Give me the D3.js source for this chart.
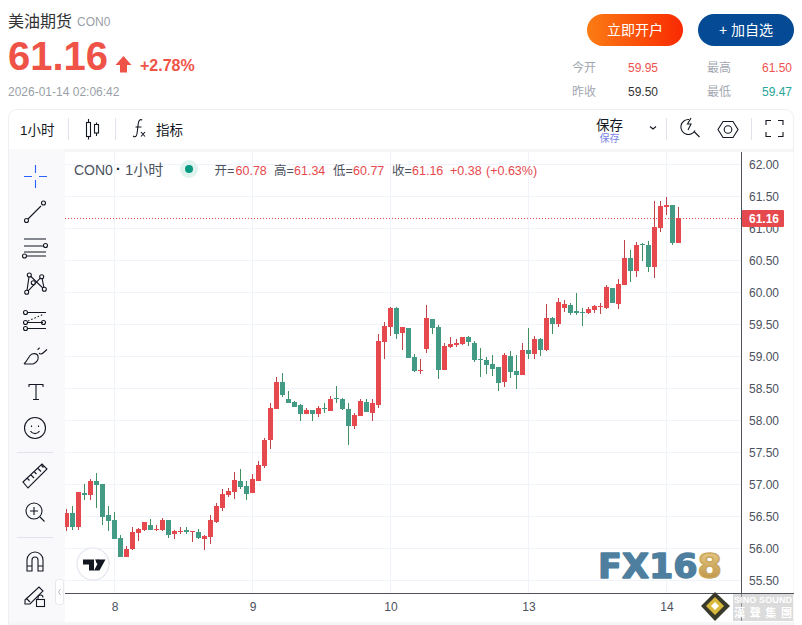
<!DOCTYPE html>
<html>
<head>
<meta charset="utf-8">
<title>美油期货</title>
<script src="https://cdn.jsdelivr.net/npm/d3@7"></script>
<style>
    html, body { margin: 0; padding: 0; background: #fff; }
    svg { display: block; font-family: "Liberation Sans", "Noto Sans CJK SC", sans-serif; }
    .icon { fill: none; stroke: #131722; stroke-width: 1.1; }
    .axis text { font-size: 12px; fill: #4c525e; font-family: "Liberation Sans", "Noto Sans CJK SC", sans-serif; }
</style>
</head>
<body>
<svg id="chart" width="802" height="625"></svg>
<script>
// Candles, one per hour, oldest first
const opens = [56.33,56.55,56.33,56.86,56.83,57.05,57.01,56.52,56.44,56.16,55.86,55.99,56.24,56.29,56.36,56.29,56.29,56.44,56.22,56.26,56.29,56.26,56.26,56.15,56.18,56.41,56.63,56.83,56.88,57.05,56.97,56.86,57.05,57.29,57.69,58.18,58.60,58.33,58.29,58.24,58.10,58.16,58.10,58.19,58.15,58.35,58.33,58.18,57.91,58.07,58.29,58.11,58.25,59.22,59.46,59.76,59.36,59.44,58.99,58.77,59.11,59.58,59.46,58.79,59.15,59.18,59.19,59.30,59.21,58.96,58.94,58.88,58.83,58.60,59.01,58.77,58.71,59.10,59.04,59.27,59.10,59.60,59.51,59.76,59.80,59.71,59.69,59.68,59.72,59.77,59.76,60.07,59.82,60.11,60.54,60.33,60.76,60.74,60.40,61.01,61.33,61.37,60.78];
const highs = [56.61,56.66,56.88,57.01,57.08,57.18,57.01,56.66,56.57,56.21,56.04,56.33,56.32,56.41,56.46,56.36,56.47,56.44,56.29,56.33,56.33,56.27,56.30,56.21,56.52,56.71,56.93,56.94,57.19,57.24,57.05,57.16,57.36,57.72,58.27,58.68,58.74,58.46,58.30,58.26,58.19,58.16,58.22,58.27,58.38,58.54,58.35,58.27,58.11,58.33,58.33,58.33,59.35,59.54,59.77,59.77,59.46,59.44,59.04,58.96,59.80,59.58,59.49,59.21,59.30,59.27,59.30,59.32,59.24,59.13,58.99,59.02,58.83,59.05,59.08,59.02,59.21,59.44,59.32,59.29,59.82,59.61,59.91,59.88,59.83,59.99,59.76,59.77,59.80,59.83,60.11,60.07,60.21,60.82,60.66,60.79,60.77,60.80,61.43,61.43,61.50,61.37,61.34];
const lows = [56.27,56.29,56.29,56.76,56.76,56.63,56.36,56.27,56.15,55.86,55.86,55.97,56.11,56.27,56.29,56.27,56.27,56.16,56.15,56.22,56.22,56.10,56.15,55.97,56.07,56.40,56.58,56.80,56.77,56.93,56.76,56.86,57.05,57.26,57.55,58.18,58.36,58.27,58.21,57.99,58.10,58.00,58.05,58.11,58.15,58.27,58.16,57.61,57.86,58.07,58.13,58.00,58.19,58.96,59.32,59.27,59.10,58.97,58.76,58.72,59.05,59.35,58.65,58.79,59.13,59.15,59.18,59.16,58.91,58.68,58.72,58.69,58.46,58.52,58.66,58.49,58.71,58.96,58.96,59.01,59.08,59.35,59.46,59.69,59.65,59.65,59.47,59.66,59.68,59.66,59.74,59.83,59.74,60.11,60.16,60.24,60.49,60.32,60.22,60.94,61.21,60.74,60.77];
const closes = [56.55,56.33,56.88,56.83,57.05,56.99,56.49,56.43,56.15,55.86,55.99,56.26,56.30,56.41,56.29,56.30,56.44,56.21,56.27,56.27,56.26,56.27,56.16,56.19,56.44,56.66,56.85,56.90,57.07,56.96,56.85,57.08,57.30,57.69,58.19,58.60,58.40,58.27,58.21,58.10,58.16,58.10,58.19,58.18,58.33,58.33,58.18,57.91,58.08,58.30,58.13,58.27,59.24,59.47,59.76,59.35,59.46,58.97,58.77,58.79,59.60,59.44,58.79,59.16,59.19,59.21,59.30,59.22,58.94,58.94,58.86,58.80,58.58,59.02,58.76,58.71,59.10,59.04,59.27,59.10,59.60,59.51,59.85,59.82,59.68,59.68,59.68,59.74,59.79,59.79,60.08,59.83,60.13,60.54,60.33,60.74,60.74,60.40,61.02,61.35,61.37,60.77,61.16];

const priceTicks = [55.5,56,56.5,57,57.5,58,58.5,59,59.5,60,60.5,61,61.5,62];
const dayTickIndex = [8,31,54,77,100];
const dayTickLabels = ["8","9","10","13","14"];
const lastPrice = 61.16;

const legendParts = ["开=", "60.78", "高=", "61.34", "低=", "60.77", "收=", "61.16", "+0.38", "(+0.63%)"];
const statRows = [
    ["今开", "59.95", "#ef5350", "最高", "61.50", "#ef5350"],
    ["昨收", "59.50", "#333333", "最低", "59.47", "#26a69a"]
];

const upColor = "#e5484d", downColor = "#439a85";
const upWick = "#c2424a", downWick = "#3f8f63";

const svg = d3.select("#chart");

// plot area
const plot = { left: 65, right: 741, top: 152, bottom: 593.5 };
const x = d3.scaleLinear().domain([0, 1]).range([66.5, 72.5]);
const y = d3.scaleLinear().domain([56, 62]).range([548.5, 164.5]);
const yPx = v => Math.round(y(v));

function addText(parent, px, py, str, size, fill, opts) {
    opts = opts || {};
    return parent.append("text")
        .attr("x", px).attr("y", py)
        .attr("font-size", size)
        .attr("fill", fill)
        .attr("text-anchor", opts.anchor || "start")
        .attr("font-weight", opts.weight || "normal")
        .attr("font-family", opts.family || null)
        .text(str);
}

// 1. Header
function drawHeader() {
    const g = svg.append("g");
    addText(g, 8, 27, "美油期货", 16, "#333");
    addText(g, 77, 26, "CON0", 12, "#9a9fa8");
    addText(g, 8, 70, "61.16", 40, "#ef5348", { weight: "bold" });
    g.append("path").attr("d", "M123.5 56 L131.5 65 L127 65 L127 72.5 L120 72.5 L120 65 L115.5 65 Z").attr("fill", "#ef5348");
    addText(g, 140, 71, "+2.78%", 16, "#ef5348", { weight: "bold" });
    addText(g, 8, 96, "2026-01-14 02:06:42", 12, "#9a9fa8");

    const defs = svg.append("defs");
    const grad = defs.append("linearGradient").attr("id", "openBtn");
    grad.append("stop").attr("offset", "0%").attr("stop-color", "#fb7c14");
    grad.append("stop").attr("offset", "100%").attr("stop-color", "#f92a02");
    g.append("rect").attr("x", 587).attr("y", 14).attr("width", 96).attr("height", 32).attr("rx", 16).attr("fill", "url(#openBtn)");
    addText(g, 635, 35, "立即开户", 14, "#fff", { anchor: "middle" });
    g.append("rect").attr("x", 698).attr("y", 14).attr("width", 96).attr("height", 32).attr("rx", 16).attr("fill", "#044a95");
    addText(g, 746, 35, "+ 加自选", 14, "#fff", { anchor: "middle" });

    statRows.forEach((row, i) => {
        const ty = 72 + i * 24;
        addText(g, 572, ty, row[0], 12, "#a3a7b0");
        addText(g, 628, ty, row[1], 12, row[2]);
        addText(g, 707, ty, row[3], 12, "#a3a7b0");
        addText(g, 762, ty, row[4], 12, row[5]);
    });
}

// 2. Card and toolbars
function drawFrame() {
    const g = svg.append("g");
    g.append("rect").attr("x", 8.5).attr("y", 109.5).attr("width", 785).attr("height", 530)
        .attr("rx", 8).attr("fill", "#fff").attr("stroke", "#eeeff3");
    g.append("rect").attr("x", 9).attr("y", 149).attr("width", 784).attr("height", 3).attr("fill", "#f6f6f9");
    g.append("rect").attr("x", 9).attr("y", 149).attr("width", 56).attr("height", 476).attr("fill", "#f9f9fb");
    g.append("rect").attr("x", 741.5).attr("y", 152).attr("width", 52).attr("height", 470).attr("fill", "#fff");
    g.append("rect").attr("x", 9).attr("y", 622).attr("width", 784).attr("height", 3).attr("fill", "#f6f6f9");

    [68.5, 115.5, 666.5, 751.5].forEach(d => {
        g.append("line").attr("x1", d).attr("x2", d).attr("y1", 118).attr("y2", 140).attr("stroke", "#e0e3eb");
    });

    addText(g, 20, 135, "1小时", 13.5, "#131722");
    // candle toolbar icon
    const ic = g.append("g").attr("class", "icon");
    ic.append("path").attr("d", "M88.500 119v3M88.500 137v2.500M96.500 122.500v2M96.500 133v3");
    ic.append("rect").attr("x", 86.500).attr("y", 122.500).attr("width", 4).attr("height", 14);
    ic.append("rect").attr("x", 94.500).attr("y", 124.500).attr("width", 4).attr("height", 8.500);
    ic.append("path").attr("d", "M133 136c3 2 4 0 4.500-6l.7-6c.5-4 2-5 4-4M135.500 127h6M141 132l4 4.500M145 132l-4 4.500");
    addText(g, 156, 135, "指标", 13.5, "#131722");

    addText(g, 609.500, 130, "保存", 13.500, "#131722", { anchor: "middle" });
    addText(g, 609.500, 142, "保存", 10, "#7a86e8", { anchor: "middle" });
    ic.append("path").attr("d", "M650 126.500l3 2.500 3-2.500");
    ic.append("path").attr("d", "M689 119.500a7.500 7.500 0 1 0 6 11M691 118l-3.500 6h3.500l-3 6M694.500 132l5 5");
    ic.append("path").attr("d", "M718 129.500l5-8h10l5 8-5 8h-10z");
    ic.append("circle").attr("cx", 728).attr("cy", 129.500).attr("r", 3.800);
    ic.append("path").attr("d", "M766 125v-4.500h5M778 120.500h5v4.500M783 132v4.500h-5M771 136.500h-5v-4.500");

    // left tools
    const blue = g.append("g").attr("fill", "none").attr("stroke", "#2962ff").attr("stroke-width", 1.1);
    blue.append("path").attr("d", "M24 176.500h8M39 176.500h8M35.500 165v8M35.500 180v8");

    const tools = g.append("g").attr("class", "icon");
    // line
    tools.append("path").attr("d", "M28 219l13-13");
    tools.append("circle").attr("cx", 26.500).attr("cy", 220.500).attr("r", 2);
    tools.append("circle").attr("cx", 43.500).attr("cy", 203).attr("r", 2);
    // fib lines
    tools.append("path").attr("d", "M24 239h22M24 246h20M24 252h22M27 256h19");
    tools.append("circle").attr("cx", 45.500).attr("cy", 245.500).attr("r", 2);
    tools.append("circle").attr("cx", 24.500).attr("cy", 256).attr("r", 2);
    // pattern
    tools.append("path").attr("d", "M26.700 292.300L29.300 275L44.300 289.300L41.700 276.700L26.700 292.300");
    [[26.700, 292.300], [29.300, 275], [33.300, 282.700], [41.700, 276.700], [44.300, 289.300]].forEach(p => {
        tools.append("circle").attr("cx", p[0]).attr("cy", p[1]).attr("r", 2).attr("fill", "#f9f9fb");
    });
    // forecast
    tools.append("path").attr("d", "M27 312.500h19M27 322.500h16M27 328.500h19");
    tools.append("path").attr("d", "M28 321l16-7").attr("stroke-dasharray", "1.500 2");
    [[25.500, 312.500], [25.500, 322.500], [25.500, 328.500], [43.500, 322.500]].forEach(p => {
        tools.append("circle").attr("cx", p[0]).attr("cy", p[1]).attr("r", 2);
    });
    // brush
    tools.append("path").attr("d", "M24 364h9c3-1 6-4 5-8-.5-2-3-3-6-2-3 1-4 6-8 10M39 353c1 1.500 3 1 4 0l4-3.500M38 350c0-1 1-2 2-2");
    // text
    tools.append("path").attr("d", "M29 387v-2.500h14v2.500M36 384.500v15M33 399.500h6");
    // smile
    tools.append("circle").attr("cx", 35).attr("cy", 428).attr("r", 10.500);
    tools.append("path").attr("d", "M30.500 431c2 3.500 7 3.500 9 0M31.500 425.500v1.500M38.500 425.500v1.500");
    g.append("line").attr("x1", 17).attr("x2", 53).attr("y1", 452.500).attr("y2", 452.500).attr("stroke", "#e0e3eb");
    // ruler
    tools.append("path").attr("d", "M23 482l19-18 5 5-19 19zM27.500 478.500l2 2M31 475l3 3M34.500 472l2 2M38 468.500l3 3M41.500 465.500l2 2");
    // zoom
    tools.append("circle").attr("cx", 34).attr("cy", 511).attr("r", 8);
    tools.append("path").attr("d", "M30 511h8M34 507v8M40 517l4.500 4.500");
    g.append("line").attr("x1", 17).attr("x2", 53).attr("y1", 537.500).attr("y2", 537.500).attr("stroke", "#e0e3eb");
    // magnet
    tools.append("path").attr("d", "M27 571v-11a8 8 0 0 1 16 0v11h-5v-11a3 3 0 0 0-6 0v11zM27 566h5M38 566h5");
    // pencil lock
    tools.append("path").attr("d", "M25 600l14-13 4 4-13 13h-5zM26 598l4 4");
    tools.append("rect").attr("x", 36.500).attr("y", 599.500).attr("width", 8).attr("height", 7).attr("fill", "#f9f9fb");
    tools.append("path").attr("d", "M38 599.500v-2a2.500 2.500 0 0 1 5 0");
    // collapse tab
    g.append("rect").attr("x", 55.500).attr("y", 579.500).attr("width", 8).attr("height", 25).attr("rx", 3).attr("fill", "#fff").attr("stroke", "#e6e7ec");
    g.append("path").attr("d", "M60.500 589l-2 3 2 3").attr("fill", "none").attr("stroke", "#b5b8c0");
}

// 3. Grid, candles, axes
function drawChart() {
    const g = svg.append("g");

    g.selectAll(".hgrid").data(priceTicks).enter().append("line")
        .attr("x1", plot.left).attr("x2", plot.right)
        .attr("y1", d => y(d)).attr("y2", d => y(d))
        .attr("stroke", "#f0f3fa").attr("stroke-width", 1);
    g.selectAll(".vgrid").data(dayTickIndex).enter().append("line")
        .attr("x1", d => x(d)).attr("x2", d => x(d))
        .attr("y1", plot.top).attr("y2", plot.bottom)
        .attr("stroke", "#f0f3fa").attr("stroke-width", 1);

    svg.append("clipPath").attr("id", "plotClip").append("rect")
        .attr("x", plot.left).attr("y", plot.top)
        .attr("width", plot.right - plot.left).attr("height", plot.bottom - plot.top);
    const candles = g.append("g").attr("clip-path", "url(#plotClip)");

    const items = d3.range(closes.length);
    const bodyW = 5;
    candles.selectAll(".wick").data(items).enter().append("line")
        .attr("x1", i => x(i)).attr("x2", i => x(i))
        .attr("y1", i => yPx(highs[i])).attr("y2", i => yPx(lows[i]))
        .attr("stroke", i => closes[i] >= opens[i] ? upWick : downWick)
        .attr("stroke-width", 1);
    candles.selectAll(".body").data(items).enter().append("rect")
        .attr("x", i => x(i) - bodyW / 2)
        .attr("width", bodyW)
        .attr("y", i => yPx(Math.max(opens[i], closes[i])))
        .attr("height", i => Math.max(1, Math.abs(yPx(opens[i]) - yPx(closes[i]))))
        .attr("fill", i => closes[i] >= opens[i] ? upColor : downColor);

    // last price line
    g.append("line")
        .attr("x1", plot.left).attr("x2", plot.right)
        .attr("y1", Math.floor(y(lastPrice)) + 0.5).attr("y2", Math.floor(y(lastPrice)) + 0.5)
        .attr("stroke", "#e5484d").attr("stroke-width", 1).attr("stroke-dasharray", "1 2");

    // axes
    const yAxis = d3.axisRight(y).tickValues(priceTicks).tickFormat(d3.format(".2f")).tickSize(0).tickPadding(8);
    const ya = g.append("g").attr("class", "axis").attr("transform", `translate(${plot.right},0.5)`).call(yAxis);
    ya.select(".domain").remove();

    const xAxis = d3.axisBottom(x).tickValues(dayTickIndex).tickFormat((d, i) => dayTickLabels[i]).tickSize(0).tickPadding(8.5);
    const xa = g.append("g").attr("class", "axis").attr("transform", `translate(0,${plot.bottom})`).call(xAxis);
    xa.select(".domain").remove();

    g.append("line").attr("x1", plot.left).attr("x2", 794).attr("y1", plot.bottom).attr("y2", plot.bottom).attr("stroke", "#50535e");
    g.append("line").attr("x1", plot.right + 0.5).attr("x2", plot.right + 0.5).attr("y1", plot.top).attr("y2", 621).attr("stroke", "#50535e");

    // last price tag
    g.append("rect").attr("x", 742).attr("y", 210).attr("width", 42).attr("height", 17).attr("rx", 1).attr("fill", "#e5484d");
    addText(g, 764, 223, "61.16", 12, "#fff", { anchor: "middle", weight: "bold" });
}

// 4. Legend line and watermarks
function drawOverlays() {
    const g = svg.append("g");
    addText(g, 74, 175, "CON0", 14, "#4c525e");
    addText(g, 116, 174, "·", 14, "#131722", { weight: "bold" });
    addText(g, 125, 175, "1小时", 15, "#4c525e");
    g.append("circle").attr("cx", 189).attr("cy", 169).attr("r", 9).attr("fill", "#e0f3ef");
    g.append("circle").attr("cx", 189).attr("cy", 169).attr("r", 4).attr("fill", "#089981");

    const legendX = [214.5, 235.5, 274, 294, 333, 353, 392, 412, 450, 486];
    legendParts.forEach((part, i) => {
        const isLabel = i < 8 && i % 2 === 0;
        addText(g, legendX[i], 175, part, 12.5, isLabel ? "#4c525e" : "#e5484d");
    });

    // tv logo
    g.append("circle").attr("cx", 93).attr("cy", 564).attr("r", 16).attr("fill", "#fff").attr("stroke", "#e3e5ee").attr("stroke-width", 1.2);
    g.append("path").attr("fill", "#131722")
        .attr("d", "M83 559.500h11v11h-5v-6h-6zM95 559.500h10.500l-6 11h-5.500l3.500-6.500z");
    g.append("circle").attr("cx", 98).attr("cy", 561.500).attr("r", 1.900).attr("fill", "#131722");

    // FX168 watermark
    const defs = svg.append("defs");
    const gold = defs.append("linearGradient").attr("id", "goldGrad").attr("x2", 0).attr("y2", 1);
    gold.append("stop").attr("offset", "0%").attr("stop-color", "#ecd08c");
    gold.append("stop").attr("offset", "100%").attr("stop-color", "#b58a3c");
    const wm = g.append("text").attr("x", 598).attr("y", 578)
        .attr("font-family", "DejaVu Sans").attr("font-weight", "bold").attr("font-size", 33)
        .attr("stroke-width", 1.4).attr("stroke-linejoin", "round")
        .attr("textLength", 124).attr("lengthAdjust", "spacingAndGlyphs");
    wm.append("tspan").attr("fill", "#4f7f9f").attr("stroke", "#4f7f9f").text("FX16");
    wm.append("tspan").attr("fill", "url(#goldGrad)").attr("stroke", "#c9a65c").text("8");

    // sino sound mark
    const mark = g.append("g");
    mark.append("path").attr("d", "M715 592l15 14-15 15-14-15z").attr("fill", "#3a3a2c");
    mark.append("path").attr("d", "M715 597l9 9-9 9-9-9z").attr("fill", "#d9b93b");
    mark.append("path").attr("d", "M715 602l4 4-4 4-4-4z").attr("fill", "#fff");
    g.append("rect").attr("x", 733).attr("y", 594).attr("width", 60).attr("height", 27).attr("fill", "#bdbdbd").attr("opacity", 0.55);
    addText(g, 734, 603, "SINO SOUND", 9, "#fff", { weight: "bold" }).attr("textLength", 58);
    addText(g, 734, 617, "漢 聲 集 團", 11, "#fff", { weight: "bold" }).attr("textLength", 58);
}

function init() {
    drawHeader();
    drawFrame();
    drawChart();
    drawOverlays();
}

document.addEventListener("DOMContentLoaded", init);
</script>
</body>
</html>
